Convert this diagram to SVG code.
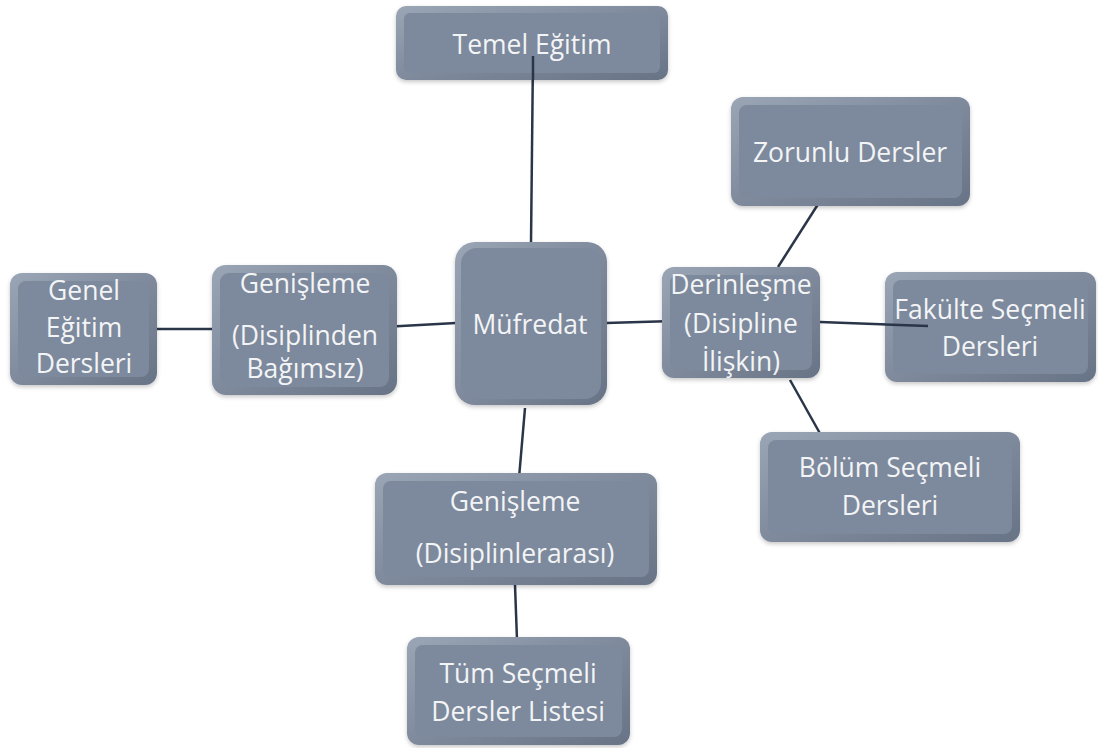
<svg xmlns="http://www.w3.org/2000/svg" width="1098" height="748" viewBox="0 0 1098 748">
<defs>
<linearGradient id="bevel" x1="0" y1="0" x2="1" y2="1">
<stop offset="0" stop-color="#9aa5b5"/>
<stop offset="0.5" stop-color="#7f8a9d"/>
<stop offset="1" stop-color="#687386"/>
</linearGradient>
<filter id="sh" x="-10%" y="-10%" width="120%" height="130%">
<feDropShadow dx="0" dy="2" stdDeviation="2" flood-color="#000" flood-opacity="0.22"/>
</filter>
</defs>
<style>
.box{fill:url(#bevel);filter:url(#sh)}
.face{fill:#7d899c}
.t{font-family:"Open Sans","Noto Sans",sans-serif;font-size:26.5px;fill:#f3f4f6;text-anchor:middle}
.c{stroke:#2a3548;stroke-width:2.5;fill:none}
</style>
<rect width="1098" height="748" fill="#ffffff"/>
<g id="connectors">
<line class="c" x1="533" y1="55" x2="531" y2="243"/>
<line class="c" x1="525" y1="408" x2="519" y2="478"/>
<line class="c" x1="515" y1="585" x2="517" y2="640"/>
<line class="c" x1="150" y1="329" x2="212" y2="329"/>
<line class="c" x1="383" y1="327" x2="456" y2="323"/>
<line class="c" x1="606" y1="323" x2="674" y2="321"/>
<line class="c" x1="820" y1="322" x2="928" y2="326"/>
<line class="c" x1="778" y1="267" x2="822" y2="198"/>
<line class="c" x1="790" y1="380" x2="822" y2="437"/>
</g>
<g id="temel">
<rect class="box" x="396" y="6" width="272" height="74" rx="10"/>
<rect class="face" x="404" y="13" width="256" height="60" rx="6"/>
<line class="c" x1="533" y1="56" x2="533" y2="80"/>
<text class="t" x="532" y="54">Temel Eğitim</text>
</g>
<g id="zorunlu">
<rect class="box" x="731" y="97" width="239" height="109" rx="12"/>
<rect class="face" x="739" y="105" width="223" height="93" rx="8"/>
<text class="t" x="850" y="162">Zorunlu Dersler</text>
</g>
<g id="genel">
<rect class="box" x="10" y="273" width="147" height="112" rx="12"/>
<rect class="face" x="18" y="281" width="131" height="96" rx="8"/>
<text class="t" x="84" y="300">Genel</text>
<text class="t" x="84" y="337">Eğitim</text>
<text class="t" x="84" y="373">Dersleri</text>
</g>
<g id="genisleme1">
<rect class="box" x="212" y="265" width="185" height="130" rx="14"/>
<rect class="face" x="220" y="273" width="169" height="114" rx="9"/>
<text class="t" x="305" y="293">Genişleme</text>
<text class="t" x="305" y="345">(Disiplinden</text>
<text class="t" x="305" y="378">Bağımsız)</text>
</g>
<g id="mufredat">
<rect class="box" x="455" y="242" width="152" height="163" rx="20"/>
<rect class="face" x="461" y="248" width="140" height="151" rx="16"/>
<text class="t" x="530" y="334">Müfredat</text>
</g>
<g id="derinlesme">
<rect class="box" x="662" y="267" width="158" height="111" rx="12"/>
<rect class="face" x="670" y="275" width="142" height="95" rx="8"/>
<text class="t" x="741" y="294">Derinleşme</text>
<text class="t" x="741" y="333">(Disipline</text>
<text class="t" x="741" y="371">İlişkin)</text>
</g>
<g id="fakulte">
<rect class="box" x="885" y="272" width="211" height="110" rx="12"/>
<rect class="face" x="893" y="280" width="195" height="94" rx="8"/>
<line class="c" x1="885" y1="324.5" x2="928" y2="326"/>
<text class="t" x="990" y="319">Fakülte Seçmeli</text>
<text class="t" x="990" y="356">Dersleri</text>
</g>
<g id="bolum">
<rect class="box" x="760" y="432" width="260" height="110" rx="12"/>
<rect class="face" x="768" y="440" width="244" height="94" rx="8"/>
<text class="t" x="890" y="477">Bölüm Seçmeli</text>
<text class="t" x="890" y="515">Dersleri</text>
</g>
<g id="genisleme2">
<rect class="box" x="375" y="473" width="282" height="112" rx="12"/>
<rect class="face" x="383" y="481" width="266" height="96" rx="8"/>
<text class="t" x="515" y="511">Genişleme</text>
<text class="t" x="515" y="563">(Disiplinlerarası)</text>
</g>
<g id="tum">
<rect class="box" x="407" y="637" width="223" height="108" rx="12"/>
<rect class="face" x="415" y="645" width="207" height="92" rx="8"/>
<text class="t" x="518" y="683">Tüm Seçmeli</text>
<text class="t" x="518" y="721">Dersler Listesi</text>
</g>
</svg>
